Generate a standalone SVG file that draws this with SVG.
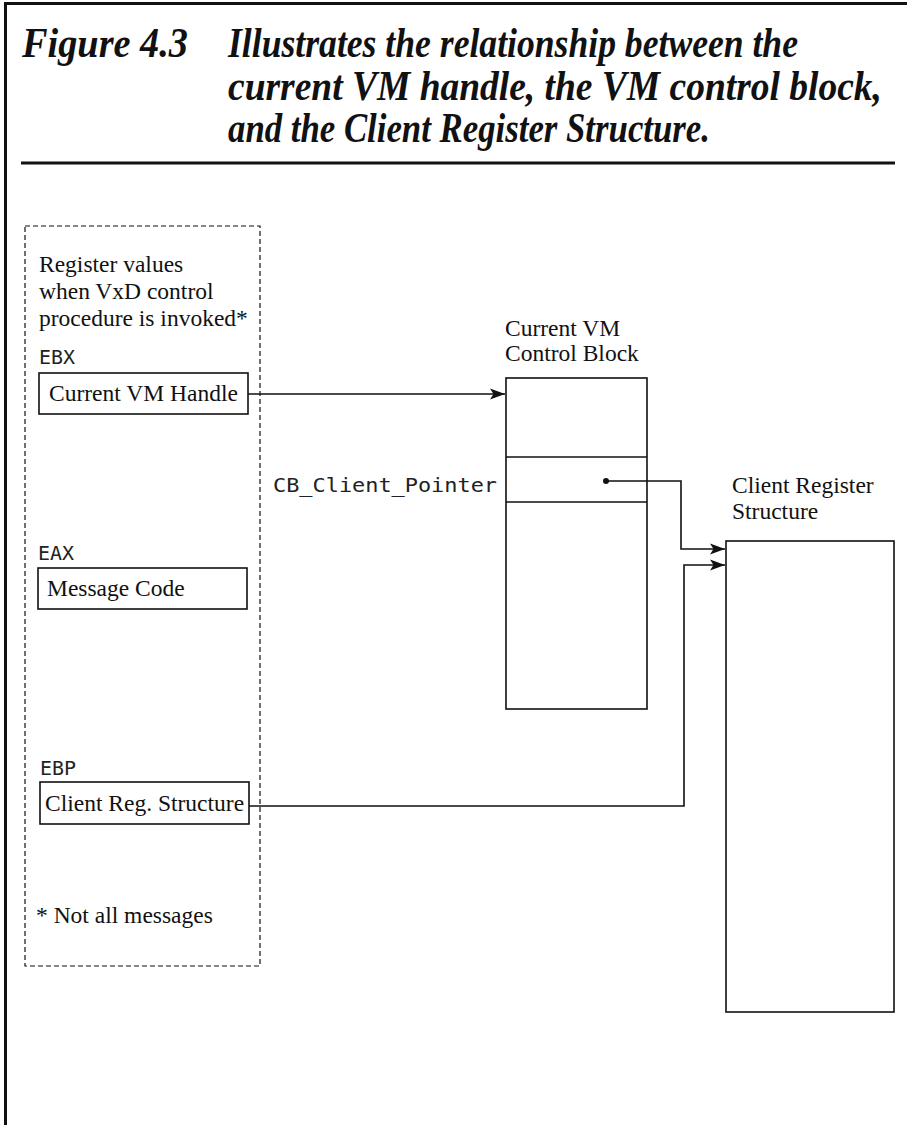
<svg xmlns="http://www.w3.org/2000/svg" width="907" height="1125" viewBox="0 0 907 1125">
<style>
.title{font-family:"Liberation Serif",serif;font-weight:bold;font-style:italic;font-size:36px;fill:#111}
.body{font-family:"Liberation Serif",serif;font-size:23.5px;fill:#111}
.mono{font-family:"DejaVu Sans Mono",monospace;font-size:19px;fill:#222}
.box{fill:none;stroke:#111;stroke-width:1.6}
.conn{fill:none;stroke:#111;stroke-width:1.6}
</style>
<defs>
<marker id="arr" markerWidth="16" markerHeight="12" refX="15" refY="6" orient="auto" markerUnits="userSpaceOnUse">
<path d="M0,0.5 L15,6 L0,11.5 L3.5,6 z" fill="#111"/>
</marker>
</defs>
<rect width="907" height="1125" fill="#fff"/>
<g id="frame">
<line x1="4" y1="3.5" x2="907" y2="3.5" stroke="#111" stroke-width="3"/>
<line x1="5.5" y1="2" x2="5.5" y2="1125" stroke="#111" stroke-width="3"/>
<line x1="21" y1="163" x2="895" y2="163" stroke="#111" stroke-width="3"/>
</g>
<g id="title" transform="scale(1,1.16)">
<text class="title" x="22" y="49.1" textLength="166" lengthAdjust="spacingAndGlyphs">Figure 4.3</text>
<text class="title" x="228" y="49.1" textLength="570" lengthAdjust="spacingAndGlyphs">Illustrates the relationship between the</text>
<text class="title" x="228" y="86.2" textLength="654" lengthAdjust="spacingAndGlyphs">current VM handle, the VM control block,</text>
<text class="title" x="228" y="122.4" textLength="482" lengthAdjust="spacingAndGlyphs">and the Client Register Structure.</text>
</g>
<g id="registers">
<rect x="25" y="226" width="235" height="740" fill="none" stroke="#111" stroke-width="1.2" stroke-dasharray="5,3"/>
<text class="body" x="39" y="272">Register values</text>
<text class="body" x="39" y="299">when VxD control</text>
<text class="body" x="39" y="326">procedure is invoked*</text>
<text class="body" x="36" y="923">* Not all messages</text>
</g>
<g id="ebx">
<text class="mono" x="39" y="364" textLength="36" lengthAdjust="spacingAndGlyphs">EBX</text>
<rect class="box" x="39" y="373" width="209" height="41"/>
<text class="body" x="49" y="401">Current VM Handle</text>
</g>
<g id="eax">
<text class="mono" x="38" y="560" textLength="36" lengthAdjust="spacingAndGlyphs">EAX</text>
<rect class="box" x="38" y="568" width="209" height="41"/>
<text class="body" x="47" y="596">Message Code</text>
</g>
<g id="ebp">
<text class="mono" x="40" y="775" textLength="36" lengthAdjust="spacingAndGlyphs">EBP</text>
<rect class="box" x="40" y="782" width="209" height="42"/>
<text class="body" x="45" y="811">Client Reg. Structure</text>
</g>
<g id="control-block">
<text class="body" x="505" y="336">Current VM</text>
<text class="body" x="505" y="361">Control Block</text>
<rect class="box" x="506" y="378" width="141" height="331"/>
<line class="box" x1="506" y1="457" x2="647" y2="457"/>
<line class="box" x1="506" y1="502" x2="647" y2="502"/>
<text class="mono" x="273" y="492" textLength="224" lengthAdjust="spacingAndGlyphs">CB_Client_Pointer</text>
<circle cx="606" cy="481" r="3" fill="#111"/>
</g>
<g id="client-register">
<text class="body" x="732" y="493">Client Register</text>
<text class="body" x="732" y="519">Structure</text>
<rect class="box" x="726" y="541" width="168" height="471"/>
</g>
<g id="connectors">
<path class="conn" d="M248,394 L505,394" marker-end="url(#arr)"/>
<path class="conn" d="M606,481 L681,481 L681,549 L725,549" marker-end="url(#arr)"/>
<path class="conn" d="M249,806 L684,806 L684,565 L725,565" marker-end="url(#arr)"/>
</g>
</svg>
